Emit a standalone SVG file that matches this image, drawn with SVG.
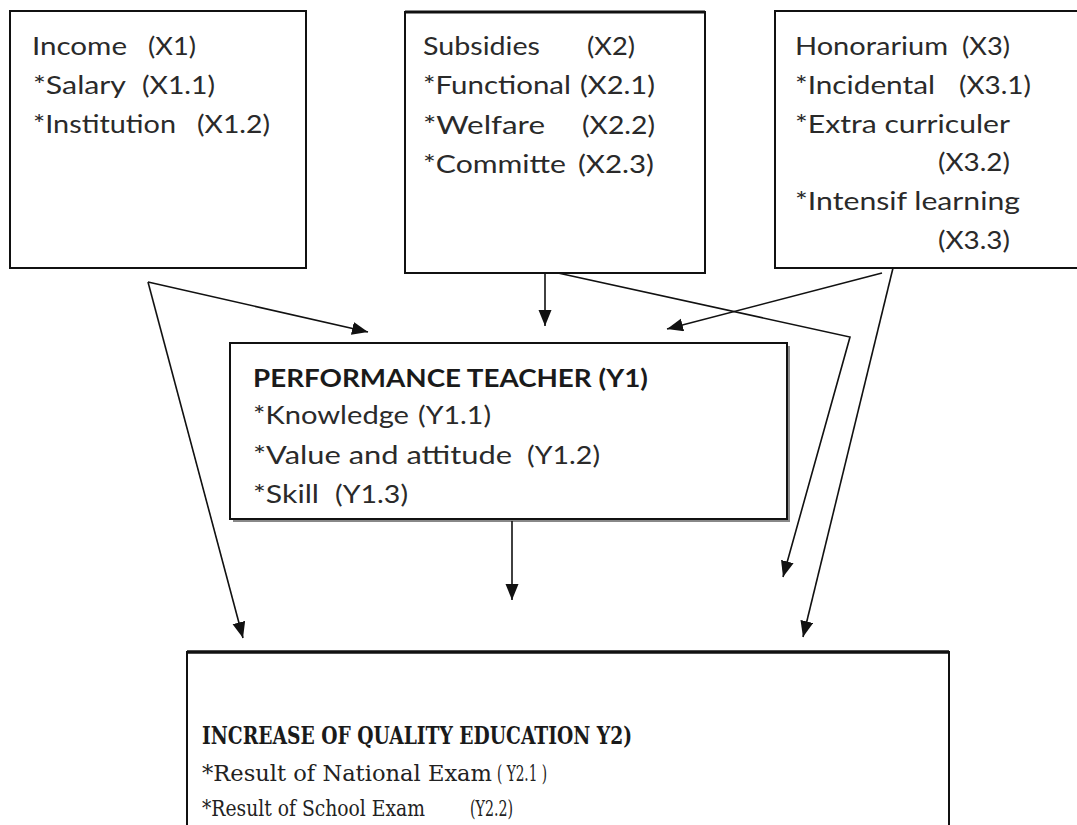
<svg xmlns="http://www.w3.org/2000/svg" width="1077" height="825" viewBox="0 0 1077 825">
<style>
.box{fill:#fff;stroke:#111;stroke-width:2}
.s{font-family:Lato,"Open Sans",sans-serif;font-size:25px;fill:#2a2a2a}
.sb{font-family:Lato,"Open Sans",sans-serif;font-size:25px;font-weight:bold;fill:#1a1a1a}
.r{font-family:"DejaVu Serif Condensed","DejaVu Serif","Liberation Serif",serif;font-size:23px;fill:#222}
.rb{font-family:"DejaVu Serif Condensed","DejaVu Serif","Liberation Serif",serif;font-size:24px;font-weight:bold;fill:#1a1a1a}
.c{fill:none;stroke:#111;stroke-width:1.6}
</style>
<defs>
<marker id="ah" markerUnits="userSpaceOnUse" markerWidth="17" markerHeight="14" refX="16" refY="6.5" orient="auto">
<path d="M0,0 L16,6.5 L0,13 z" fill="#111"/>
</marker>
</defs>
<rect width="1077" height="825" fill="#fff"/>

<g id="income">
<rect class="box" x="10" y="11" width="296" height="257"/>
<text class="s" x="32" y="55" textLength="95" lengthAdjust="spacingAndGlyphs">Income</text>
<text class="s" x="148" y="55" textLength="48" lengthAdjust="spacingAndGlyphs">(X1)</text>
<text class="s" x="33" y="94" textLength="93" lengthAdjust="spacingAndGlyphs">*Salary</text>
<text class="s" x="142" y="94" textLength="73" lengthAdjust="spacingAndGlyphs">(X1.1)</text>
<text class="s" x="33" y="133" textLength="143" lengthAdjust="spacingAndGlyphs">*Institution</text>
<text class="s" x="197" y="133" textLength="73" lengthAdjust="spacingAndGlyphs">(X1.2)</text>
</g>

<g id="subsidies">
<rect class="box" x="405" y="12" width="300" height="261"/>
<line x1="405" y1="12" x2="705" y2="12" stroke="#111" stroke-width="3"/>
<text class="s" x="423" y="55" textLength="117" lengthAdjust="spacingAndGlyphs">Subsidies</text>
<text class="s" x="587" y="55" textLength="48" lengthAdjust="spacingAndGlyphs">(X2)</text>
<text class="s" x="423" y="94" textLength="148" lengthAdjust="spacingAndGlyphs">*Functional</text>
<text class="s" x="580" y="94" textLength="75" lengthAdjust="spacingAndGlyphs">(X2.1)</text>
<text class="s" x="423" y="134" textLength="122" lengthAdjust="spacingAndGlyphs">*Welfare</text>
<text class="s" x="582" y="134" textLength="73" lengthAdjust="spacingAndGlyphs">(X2.2)</text>
<text class="s" x="423" y="173" textLength="143" lengthAdjust="spacingAndGlyphs">*Committe</text>
<text class="s" x="578" y="173" textLength="76" lengthAdjust="spacingAndGlyphs">(X2.3)</text>
</g>

<g id="honorarium">
<rect class="box" x="775" y="11" width="310" height="257"/>
<text class="s" x="795" y="55" textLength="153" lengthAdjust="spacingAndGlyphs">Honorarium</text>
<text class="s" x="962" y="55" textLength="48" lengthAdjust="spacingAndGlyphs">(X3)</text>
<text class="s" x="795" y="94" textLength="140" lengthAdjust="spacingAndGlyphs">*Incidental</text>
<text class="s" x="959" y="94" textLength="72" lengthAdjust="spacingAndGlyphs">(X3.1)</text>
<text class="s" x="795" y="133" textLength="215" lengthAdjust="spacingAndGlyphs">*Extra curriculer</text>
<text class="s" x="938" y="171" textLength="72" lengthAdjust="spacingAndGlyphs">(X3.2)</text>
<text class="s" x="795" y="210" textLength="225" lengthAdjust="spacingAndGlyphs">*Intensif learning</text>
<text class="s" x="938" y="249" textLength="72" lengthAdjust="spacingAndGlyphs">(X3.3)</text>
</g>

<g id="performance">
<rect x="233" y="346" width="557" height="176" fill="#888"/>
<rect class="box" x="230" y="343" width="557" height="176"/>
<text class="sb" x="253" y="387" textLength="395" lengthAdjust="spacingAndGlyphs">PERFORMANCE TEACHER (Y1)</text>
<text class="s" x="253" y="424" textLength="156" lengthAdjust="spacingAndGlyphs">*Knowledge</text>
<text class="s" x="418" y="424" textLength="73" lengthAdjust="spacingAndGlyphs">(Y1.1)</text>
<text class="s" x="253" y="464" textLength="259" lengthAdjust="spacingAndGlyphs">*Value and attitude</text>
<text class="s" x="527" y="464" textLength="73" lengthAdjust="spacingAndGlyphs">(Y1.2)</text>
<text class="s" x="253" y="503" textLength="66" lengthAdjust="spacingAndGlyphs">*Skill</text>
<text class="s" x="335" y="503" textLength="73" lengthAdjust="spacingAndGlyphs">(Y1.3)</text>
</g>

<g id="quality">
<rect class="box" x="187" y="652" width="762" height="200"/>
<line x1="187" y1="652" x2="949" y2="652" stroke="#111" stroke-width="3.5"/>
<text class="rb" x="202" y="744" textLength="430" lengthAdjust="spacingAndGlyphs">INCREASE OF QUALITY EDUCATION Y2)</text>
<text class="r" x="202" y="781" textLength="290" lengthAdjust="spacingAndGlyphs">*Result of National Exam</text>
<text class="r" x="497" y="781" textLength="50" lengthAdjust="spacingAndGlyphs">( Y2.1 )</text>
<text class="r" x="202" y="816" textLength="223" lengthAdjust="spacingAndGlyphs">*Result of School Exam</text>
<text class="r" x="470" y="816" textLength="43" lengthAdjust="spacingAndGlyphs">(Y2.2)</text>
</g>

<g id="connectors">
<line class="c" x1="148" y1="282" x2="368" y2="332" marker-end="url(#ah)"/>
<line class="c" x1="148" y1="282" x2="243" y2="638" marker-end="url(#ah)"/>
<line class="c" x1="545" y1="273" x2="545" y2="326" marker-end="url(#ah)"/>
<polyline class="c" points="558,273 850,337 783,577" marker-end="url(#ah)"/>
<line class="c" x1="882" y1="273" x2="667" y2="329" marker-end="url(#ah)"/>
<line class="c" x1="893" y1="268" x2="803" y2="637" marker-end="url(#ah)"/>
<line class="c" x1="512" y1="521" x2="512" y2="600" marker-end="url(#ah)"/>
</g>
</svg>
